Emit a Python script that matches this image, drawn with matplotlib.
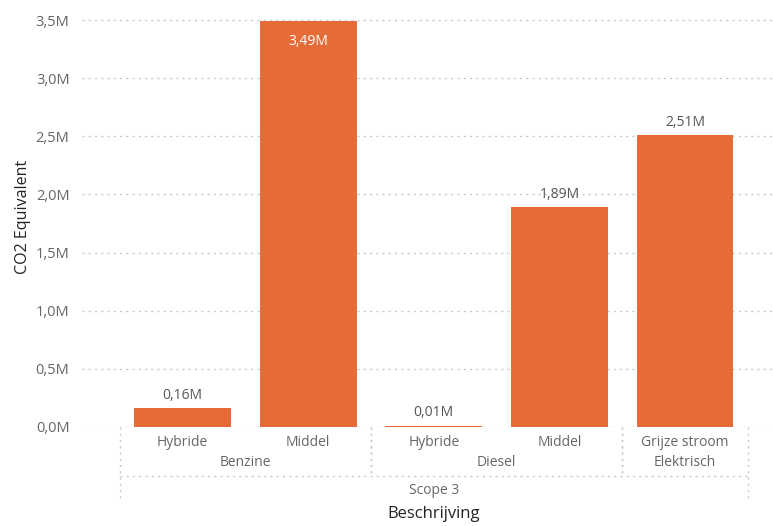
import matplotlib
matplotlib.use("Agg")
import matplotlib.pyplot as plt
import matplotlib.transforms as mtransforms

# --- data ---
subcats = ['Hybride', 'Middel', 'Hybride', 'Middel', 'Grijze stroom']
groups = ['Benzine', 'Benzine', 'Diesel', 'Diesel', 'Elektrisch']
scope = 'Scope 3'
values = [0.16e6, 3.49e6, 0.01e6, 1.89e6, 2.51e6]
yticks = [0, 0.5e6, 1.0e6, 1.5e6, 2.0e6, 2.5e6, 3.0e6, 3.5e6]

bar_color = '#E66C37'
grid_color = '#C8C8C8'
tick_color = '#666666'
dark = '#252423'

plt.rcParams['font.family'] = ['Open Sans', 'DejaVu Sans']

W, H = 773, 526
fig = plt.figure(figsize=(W / 100, H / 100), dpi=100)
# axes from pixel x=82 to the right edge, y=0 (top) to y=427 (baseline)
ax = fig.add_axes([82 / W, (H - 427) / H, (W - 82) / W, 427 / H])

x = list(range(len(values)))
ax.bar(x, values, width=0.77, color=bar_color, zorder=3)

ax.set_xlim(-0.80, 4.70)
ax.set_ylim(0, 3.672e6)

# dotted gridlines
ax.set_yticks(yticks)
ax.set_yticklabels([f"{t / 1e6:.1f}M".replace('.', ',') for t in yticks],
                   color=tick_color, fontsize=10.5)
ax.tick_params(axis='y', length=0, pad=9)
ax.yaxis.grid(True, linestyle=(0, (1.5, 3)), color=grid_color, linewidth=1, zorder=0)
ax.set_xticks([])
for s in ax.spines.values():
    s.set_visible(False)

# value labels
for xi, v in zip(x, values):
    lab = f"{v / 1e6:.2f}M".replace('.', ',')
    if v > 3.2e6:
        ax.annotate(lab, (xi, v), xytext=(0, -20), textcoords='offset points',
                    ha='center', va='bottom', color='white', fontsize=10)
    else:
        ax.annotate(lab, (xi, v), xytext=(0, 4), textcoords='offset points',
                    ha='center', va='bottom', color='#555555', fontsize=10)

# hierarchical x-axis
tr = mtransforms.blended_transform_factory(ax.transData, fig.transFigure)


def fy(py):
    return (H - py) / H


for xi, name in zip(x, subcats):
    fig.text(xi, fy(443), name, transform=tr, ha='center', va='center',
             color=tick_color, fontsize=10)

# group spans
spans = []
start = 0
for i in range(1, len(groups) + 1):
    if i == len(groups) or groups[i] != groups[start]:
        spans.append((groups[start], start, i - 1))
        start = i
for name, a, b in spans:
    fig.text((a + b) / 2, fy(463), name, transform=tr, ha='center', va='center',
             color=tick_color, fontsize=10)

dot = dict(color=grid_color, linestyle=(0, (1.5, 3)), linewidth=1, transform=tr,
           clip_on=False)
left, right = -0.5, len(values) - 0.5
for name, a, b in spans:
    for edge in (a - 0.5, b + 0.5):
        if edge in (left, right):
            continue
        fig.add_artist(plt.Line2D([edge, edge], [fy(427), fy(476)], **dot))
fig.add_artist(plt.Line2D([left, left], [fy(427), fy(500)], **dot))
fig.add_artist(plt.Line2D([right, right], [fy(427), fy(500)], **dot))
fig.add_artist(plt.Line2D([left, right], [fy(476), fy(476)], **dot))

fig.text((left + right) / 2, fy(490), scope, transform=tr, ha='center', va='center',
         color=tick_color, fontsize=10)
fig.text((left + right) / 2, fy(514), 'Beschrijving', transform=tr, ha='center',
         va='center', color=dark, fontsize=12)

fig.text(23 / W, fy(217), 'CO2 Equivalent', rotation=90, ha='center', va='center',
         color=dark, fontsize=11.5)

fig.savefig('out.png', dpi=100)
